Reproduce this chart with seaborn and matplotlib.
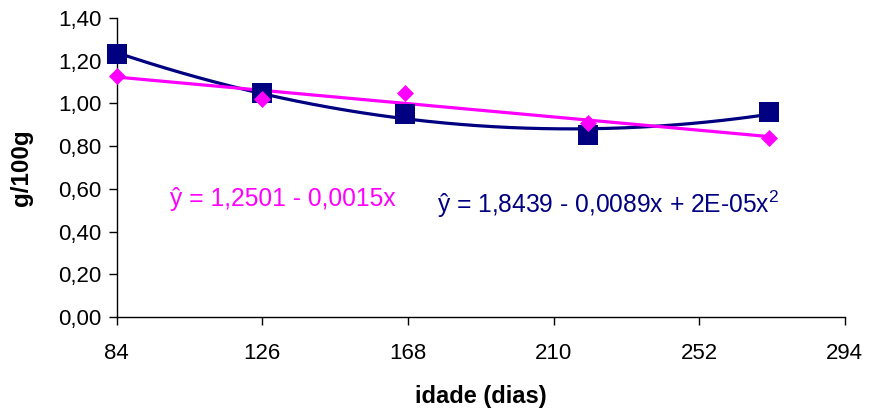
import numpy as np
import pandas as pd
import matplotlib
matplotlib.use("Agg")
import matplotlib.pyplot as plt
import seaborn as sns

# Age in days and concentration (g/100g) for the two series
idade = [84, 126, 167, 220, 272]
serie_rosa = [1.13, 1.02, 1.05, 0.91, 0.84]
serie_azul = [1.23, 1.05, 0.95, 0.85, 0.96]

x_ticks = [84, 126, 168, 210, 252, 294]
y_ticks = [0.0, 0.2, 0.4, 0.6, 0.8, 1.0, 1.2, 1.4]

eq_rosa = "ŷ = 1,2501 - 0,0015x"
eq_azul = "ŷ = 1,8439 - 0,0089x + 2E-05x$^2$"

ROSA = "#FF00FF"
AZUL = "#000080"

sns.set_style("ticks")
plt.rcParams["font.family"] = ["Liberation Sans", "DejaVu Sans"]
plt.rcParams["mathtext.fontset"] = "custom"
plt.rcParams["mathtext.rm"] = "Liberation Sans"
plt.rcParams["axes.labelcolor"] = "black"
plt.rcParams["text.color"] = "black"

fig = plt.figure(figsize=(8.71, 4.15), dpi=100)
ax = fig.add_axes([0.134, 0.236, 0.836, 0.721])

# Trend lines fitted to each series
xs = np.linspace(min(idade), max(idade), 200)
lin = np.polyfit(idade, serie_rosa, 1)
quad = np.polyfit(idade, serie_azul, 2)
trend = pd.DataFrame({"x": xs,
                      "rosa": np.polyval(lin, xs),
                      "azul": np.polyval(quad, xs)})
sns.lineplot(data=trend, x="x", y="azul", color=AZUL, lw=2.3, ax=ax, zorder=2)
sns.lineplot(data=trend, x="x", y="rosa", color=ROSA, lw=2.3, ax=ax, zorder=3)

pts = pd.DataFrame({"idade": idade, "rosa": serie_rosa, "azul": serie_azul})
sns.scatterplot(data=pts, x="idade", y="azul", marker="s", s=220, color=AZUL,
                edgecolor=AZUL, linewidth=0, ax=ax, zorder=4, clip_on=False)
sns.scatterplot(data=pts, x="idade", y="rosa", marker="D", s=75, color=ROSA,
                edgecolor=ROSA, linewidth=0, ax=ax, zorder=5, clip_on=False)

ax.set_xlim(84, 294)
ax.set_ylim(0, 1.4)
ax.set_xticks(x_ticks)
ax.set_xticklabels([str(v) for v in x_ticks], fontsize=16)
ax.set_yticks(y_ticks)
ax.set_yticklabels([f"{v:.2f}".replace(".", ",") for v in y_ticks], fontsize=16)
ax.tick_params(axis="both", direction="out", length=6, width=1, color="black",
               labelcolor="black")
ax.tick_params(axis="y", pad=5)
ax.tick_params(axis="x", pad=13)

ax.set_xlabel("idade (dias)", fontsize=17, fontweight="bold", labelpad=15,
              color="black")
ax.set_ylabel("g/100g", fontsize=17.5, fontweight="bold", labelpad=18,
              color="black")

for side in ("top", "right"):
    ax.spines[side].set_visible(False)
for side in ("left", "bottom"):
    ax.spines[side].set_color("black")
    ax.spines[side].set_linewidth(1)

ax.text(99.3, 0.52, eq_rosa, color=ROSA, fontsize=17.7, va="baseline")
ax.text(176.3, 0.488, eq_azul, color=AZUL, fontsize=17.7, va="baseline")

fig.savefig("out.png", dpi=100)
